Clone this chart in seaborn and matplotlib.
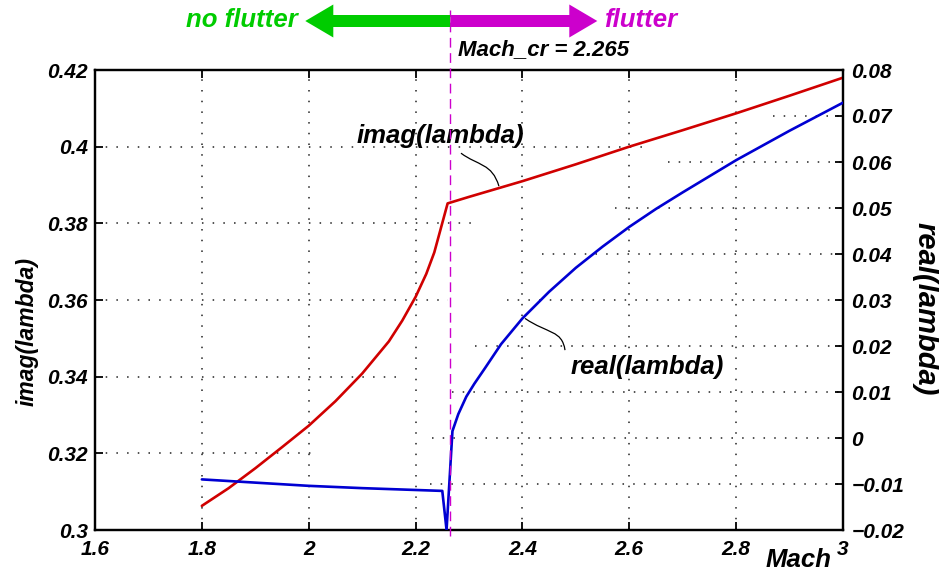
import matplotlib
matplotlib.use("Agg")
import matplotlib.pyplot as plt
import matplotlib.transforms as mtransforms
from matplotlib.patches import FancyArrow, PathPatch
from matplotlib.path import Path
import pandas as pd
import seaborn as sns

# ---- data -------------------------------------------------------------
mach_imag = [1.80, 1.85, 1.90, 1.95, 2.00, 2.05, 2.10, 2.15, 2.175, 2.20, 2.22,
             2.235, 2.26, 2.30, 2.40, 2.50, 2.60, 2.70, 2.80, 2.90, 3.00]
imag_lambda = [0.3063, 0.3109, 0.3161, 0.3216, 0.3272, 0.3336, 0.3408, 0.3492,
               0.3546, 0.3608, 0.3668, 0.3724, 0.3852, 0.3869, 0.3910, 0.3954,
               0.4000, 0.4043, 0.4087, 0.4133, 0.4180]

mach_real = [1.80, 1.90, 2.00, 2.10, 2.20, 2.25, 2.258, 2.269, 2.28, 2.295, 2.31,
             2.33, 2.36, 2.40, 2.45, 2.50, 2.55, 2.60, 2.65, 2.70, 2.80, 2.90, 3.00]
real_lambda = [-0.0090, -0.0097, -0.0104, -0.0109, -0.0113, -0.0115, -0.0200,
               0.0015, 0.0052, 0.0090, 0.0118, 0.0152, 0.0204, 0.0260, 0.0318,
               0.0370, 0.0416, 0.0459, 0.0498, 0.0534, 0.0604, 0.0668, 0.0729]

mach_cr = 2.265

x_ticks = [1.6, 1.8, 2.0, 2.2, 2.4, 2.6, 2.8, 3.0]
x_tick_labels = ["1.6", "1.8", "2", "2.2", "2.4", "2.6", "2.8", "3"]
left_ticks = [0.30, 0.32, 0.34, 0.36, 0.38, 0.40, 0.42]
left_tick_labels = ["0.3", "0.32", "0.34", "0.36", "0.38", "0.4", "0.42"]
right_ticks = [-0.02, -0.01, 0.0, 0.01, 0.02, 0.03, 0.04, 0.05, 0.06, 0.07, 0.08]
right_tick_labels = ["\u22120.02", "\u22120.01", "0", "0.01", "0.02", "0.03",
                     "0.04", "0.05", "0.06", "0.07", "0.08"]

# horizontal grid segments (left axis: from the left edge; right axis: to the right edge)
left_grid_vals = [0.32, 0.34, 0.36, 0.38, 0.40]
left_grid_ends = [2.006, 2.165, 2.261, 2.307, 2.629]
right_grid_vals = [-0.01, 0.0, 0.01, 0.02, 0.03, 0.04, 0.05, 0.06, 0.07]
right_grid_starts = [2.227, 2.231, 2.268, 2.311, 2.371, 2.437, 2.573, 2.672, 2.869]

# ---- style ------------------------------------------------------------
RED = "#d00000"
BLUE = "#0000d2"
GREEN = "#00cc00"
MAGENTA = "#cc00cc"
GRID = "#222222"
DOTS = (0, (1, 6))

sns.set_style("white")
plt.rcParams["font.family"] = ["Liberation Sans", "DejaVu Sans"]
plt.rcParams["font.weight"] = "bold"
plt.rcParams["font.style"] = "italic"
plt.rcParams["axes.unicode_minus"] = True
for key in ("text.color", "axes.labelcolor", "xtick.color", "ytick.color",
            "axes.edgecolor"):
    plt.rcParams[key] = "black"

W, H = 939, 574
fig = plt.figure(figsize=(W / 100, H / 100), dpi=100)
ax = fig.add_axes([95 / W, 1 - 530 / H, 748 / W, 460 / H])
ax2 = ax.twinx()

df_imag = pd.DataFrame({"Mach": mach_imag, "imag": imag_lambda})
df_real = pd.DataFrame({"Mach": mach_real, "real": real_lambda})

sns.lineplot(data=df_imag, x="Mach", y="imag", ax=ax, color=RED,
             linewidth=1.9, sort=False, estimator=None, zorder=3)
sns.lineplot(data=df_real, x="Mach", y="real", ax=ax2, color=BLUE,
             linewidth=1.9, sort=False, estimator=None, zorder=3)

ax.set_xlim(1.6, 3.0)
ax.set_ylim(0.30, 0.42)
ax2.set_ylim(-0.02, 0.08)

ax.set_xticks(x_ticks)
ax.set_xticklabels(x_tick_labels)
ax.set_yticks(left_ticks)
ax.set_yticklabels(left_tick_labels)
ax2.set_yticks(right_ticks)
ax2.set_yticklabels(right_tick_labels)
ax.set_xlabel("")
ax.set_ylabel("")
ax2.set_ylabel("")

ax.tick_params(axis="x", direction="in", length=6, width=1.3, top=True,
               bottom=True, labelsize=15, pad=7, colors="black")
ax.tick_params(axis="y", direction="in", length=6, width=1.3, left=True,
               right=False, labelsize=15, pad=5, colors="black")
ax2.tick_params(axis="y", direction="in", length=6, width=1.3, right=True,
                left=False, labelsize=15, pad=6, colors="black")

for a in (ax, ax2):
    for sp in a.spines.values():
        sp.set_linewidth(1.6)
        sp.set_color("black")

# dotted grid
for xv in x_ticks[1:-1]:
    ax.axvline(xv, color=GRID, lw=1.1, ls=DOTS, zorder=0.5)
ax.hlines(left_grid_vals, 1.6, left_grid_ends, colors=GRID, lw=1.1,
          linestyles=DOTS, zorder=0.5)
ax2.hlines(right_grid_vals, right_grid_starts, 3.0, colors=GRID, lw=1.1,
           linestyles=DOTS, zorder=0.5)

# critical Mach marker
ax2.axvline(mach_cr, ymin=-0.012, ymax=(530 - 10) / 460, color=MAGENTA,
            lw=1.0, ls=(0, (7, 4)), clip_on=False, zorder=4)

# flutter / no flutter arrows
trans = mtransforms.blended_transform_factory(ax.transData, fig.transFigure)
y_arrow = 1 - 21 / H
px = 1.4 / 748
fig.add_artist(FancyArrow(mach_cr, y_arrow, -145 * px, 0, width=12 / H,
                          head_width=33 / H, head_length=28 * px,
                          length_includes_head=True, transform=trans,
                          color=GREEN, lw=0))
fig.add_artist(FancyArrow(mach_cr, y_arrow, 147 * px, 0, width=12 / H,
                          head_width=33 / H, head_length=28 * px,
                          length_includes_head=True, transform=trans,
                          color=MAGENTA, lw=0))

fig.text(298 / W, 1 - 27 / H, "no flutter", ha="right", va="baseline",
         color=GREEN, fontsize=18.5)
fig.text(604 / W, 1 - 27 / H, "flutter", ha="left", va="baseline",
         color=MAGENTA, fontsize=18.5)
fig.text(458 / W, 1 - 55 / H, f"Mach_cr = {mach_cr}", ha="left",
         va="baseline", color="black", fontsize=16)

# curve labels with leader lines
ax.text(2.0898, 0.4009, "imag(lambda)", ha="left", va="baseline",
        fontsize=18.5, color="black", zorder=5)
ax.add_patch(PathPatch(Path([(2.285, 0.3983), (2.317, 0.3950),
                             (2.343, 0.3957), (2.356, 0.3897)],
                            [Path.MOVETO, Path.CURVE4, Path.CURVE4, Path.CURVE4]),
                       fill=False, lw=0.9, color="black", zorder=5))
ax2.text(2.4909, 0.01385, "real(lambda)", ha="left", va="baseline",
         fontsize=18.5, color="black", zorder=5)
ax2.add_patch(PathPatch(Path([(2.4048, 0.0260), (2.448, 0.0226),
                              (2.474, 0.0235), (2.4797, 0.0191)],
                             [Path.MOVETO, Path.CURVE4, Path.CURVE4, Path.CURVE4]),
                        fill=False, lw=0.9, color="black", zorder=5))

# axis titles
fig.text(27 / W, 1 - 331 / H, "imag(lambda)", rotation=90, ha="center",
         va="center", fontsize=16.5, color="black")
fig.text(925 / W, 1 - 309 / H, "real(lambda)", rotation=-90, ha="center",
         va="center", fontsize=21, color="black")
fig.text(799 / W, 1 - 567 / H, "Mach", ha="center", va="baseline",
         fontsize=18.5, color="black")

fig.savefig("out.png", dpi=100)
